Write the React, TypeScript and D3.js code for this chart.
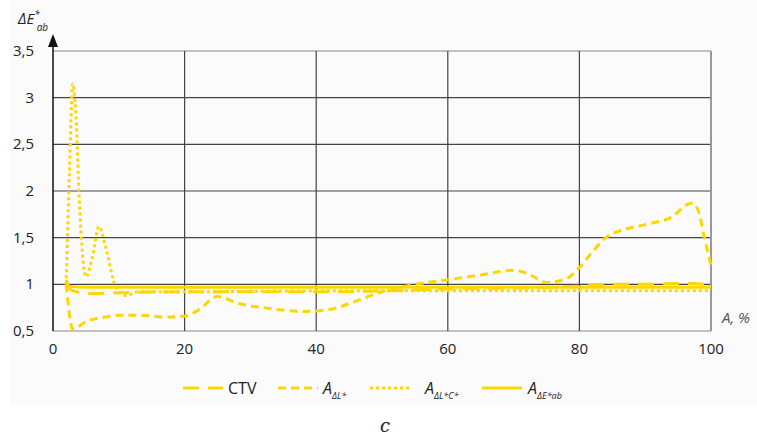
import * as d3 from 'd3';
import { useRef, useEffect } from 'react';

// x = A, %
const ctvX = [2, 3, 6, 10, 20, 30, 40, 50, 60, 70, 80, 85, 90, 95, 97, 99, 100];
const ctvY = [1.0, 0.93, 0.9, 0.91, 0.92, 0.92, 0.92, 0.93, 0.95, 0.96, 0.98, 1.0, 1.0, 1.01, 1.01, 1.0, 0.97];

const dLX = [2, 3, 5, 8, 10, 13, 17, 20, 22, 25, 28, 33, 38, 42, 46, 50, 55, 60, 65, 70, 72, 75, 78, 80, 82, 84, 86, 90, 94, 97, 98, 99, 100];
const dLY = [1.0, 0.52, 0.6, 0.65, 0.67, 0.67, 0.65, 0.66, 0.72, 0.87, 0.8, 0.74, 0.71, 0.73, 0.82, 0.92, 1.0, 1.05, 1.1, 1.15, 1.12, 1.02, 1.06, 1.18, 1.35, 1.5, 1.57, 1.64, 1.72, 1.87, 1.8, 1.5, 1.2];

const dLCX = [2, 2.5, 3, 3.5, 4, 5, 6, 7, 8, 9.5, 11, 13, 20, 40, 60, 80, 100];
const dLCY = [1.0, 2.2, 3.15, 2.8, 1.9, 1.08, 1.3, 1.62, 1.4, 0.98, 0.88, 0.92, 0.92, 0.93, 0.93, 0.93, 0.93];

const dEX = [2, 2.5, 5, 20, 40, 60, 80, 100];
const dEY = [1.05, 0.98, 0.97, 0.97, 0.97, 0.97, 0.97, 0.97];

const xTicks = [0, 20, 40, 60, 80, 100];
const yTicks = [0.5, 1, 1.5, 2, 2.5, 3, 3.5];

const series = [
  { name: 'CTV', sub: '', xs: ctvX, ys: ctvY, dash: '16,9' },
  { name: 'A', sub: 'ΔL*', xs: dLX, ys: dLY, dash: '8,5' },
  { name: 'A', sub: 'ΔL*C*', xs: dLCX, ys: dLCY, dash: '3,3' },
  { name: 'A', sub: 'ΔE*ab', xs: dEX, ys: dEY, dash: null },
];

const YELLOW = '#ffd700';

export default function App() {
  const ref = useRef<SVGSVGElement>(null);

  useEffect(() => {
    const width = 757, height = 442;
    const svg = d3.select(ref.current);
    svg.selectAll('*').remove();

    const x = d3.scaleLinear().domain([0, 100]).range([53, 711]);
    const y = d3.scaleLinear().domain([0.5, 3.5]).range([331, 51]);
    const font = "'Open Sans', 'DejaVu Sans', sans-serif";

    svg.append('rect').attr('width', width).attr('height', height).attr('fill', '#fff');
    svg.append('rect').attr('x', 10).attr('y', 0).attr('width', width - 10).attr('height', 405).attr('fill', '#fbfbfb');

    // grid
    const grid = svg.append('g');
    grid.selectAll('line.h').data(yTicks).join('line')
      .attr('x1', x(0)).attr('x2', x(100))
      .attr('y1', d => y(d)).attr('y2', d => y(d))
      .attr('stroke', d => (d === 0.5 || d === 3.5) ? '#888' : '#444').attr('stroke-width', 1.2);
    grid.selectAll('line.v').data(xTicks.slice(1)).join('line')
      .attr('x1', d => x(d)).attr('x2', d => x(d))
      .attr('y1', y(3.5)).attr('y2', y(0.5))
      .attr('stroke', d => d === 100 ? '#999' : '#444').attr('stroke-width', d => d === 100 ? 2 : 1.2);

    // y axis with arrow
    svg.append('line').attr('x1', x(0)).attr('x2', x(0)).attr('y1', y(0.5)).attr('y2', 40)
      .attr('stroke', '#111').attr('stroke-width', 1.5);
    svg.append('path').attr('d', `M${x(0)},34 L${x(0) - 5},47 L${x(0) + 5},47 Z`).attr('fill', '#111');

    // tick labels
    svg.append('g').selectAll('text').data(yTicks).join('text')
      .attr('x', 34).attr('y', d => y(d) + 5).attr('text-anchor', 'end')
      .attr('font-family', font).attr('font-size', 15).attr('fill', '#222')
      .text(d => String(d).replace('.', ','));
    svg.append('g').selectAll('text').data(xTicks).join('text')
      .attr('x', d => x(d)).attr('y', 354).attr('text-anchor', 'middle')
      .attr('font-family', font).attr('font-size', 15).attr('fill', '#222')
      .text(d => d);

    // axis titles
    const yt = svg.append('text').attr('x', 18).attr('y', 24).attr('font-family', font)
      .attr('font-style', 'italic').attr('font-size', 15).attr('fill', '#222');
    yt.append('tspan').text('ΔE');
    yt.append('tspan').attr('dy', -6).attr('font-size', 10).text('*');
    yt.append('tspan').attr('dy', 13).attr('dx', -3).attr('font-size', 10).text('ab');
    svg.append('text').attr('x', 722).attr('y', 323).attr('font-family', font)
      .attr('font-style', 'italic').attr('font-size', 15).attr('fill', '#555').text('A, %');

    // lines
    const line = d3.line<[number, number]>()
      .x(d => x(d[0])).y(d => y(d[1])).curve(d3.curveMonotoneX);
    series.forEach(s => {
      const pts = s.xs.map((v, i) => [v, s.ys[i]] as [number, number]);
      svg.append('path').attr('d', line(pts))
        .attr('fill', 'none').attr('stroke', YELLOW).attr('stroke-width', 3)
        .attr('stroke-dasharray', s.dash);
    });

    // legend
    const legX = [183, 278, 370, 482];
    const legTX = [228, 323, 425, 528];
    series.forEach((s, i) => {
      svg.append('line').attr('x1', legX[i]).attr('x2', legX[i] + 40).attr('y1', 388).attr('y2', 388)
        .attr('stroke', YELLOW).attr('stroke-width', 3).attr('stroke-dasharray', s.dash);
      const t = svg.append('text').attr('x', legTX[i]).attr('y', 394)
        .attr('font-family', font).attr('font-size', 16).attr('fill', '#222');
      if (s.sub) {
        t.attr('font-style', 'italic');
        t.append('tspan').text(s.name);
        t.append('tspan').attr('dy', 5).attr('font-size', 9).text(s.sub);
      } else {
        t.text(s.name);
      }
    });

    svg.append('text').attr('x', 385).attr('y', 432).attr('text-anchor', 'middle')
      .attr('font-family', 'DejaVu Serif, serif').attr('font-style', 'italic')
      .attr('font-size', 18).attr('fill', '#222').text('c');
  }, []);

  return (
    <svg ref={ref} width={757} height={442}
      style={{ position: 'absolute', left: 0, top: 0, display: 'block' }} />
  );
}
